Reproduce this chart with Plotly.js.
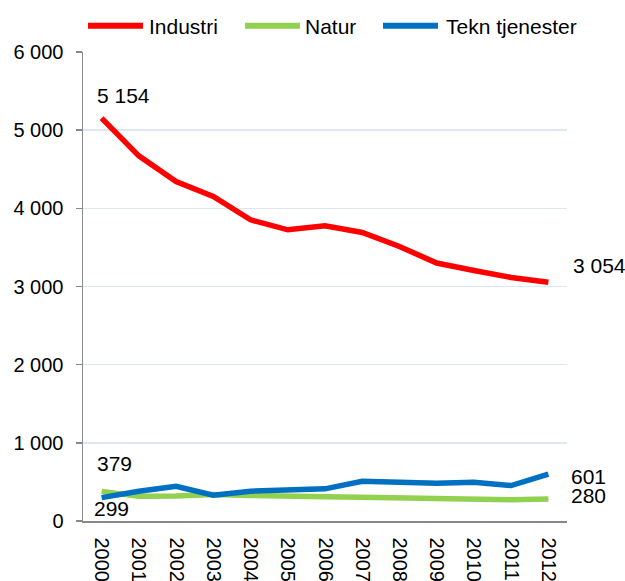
<!DOCTYPE html>
<html><head><meta charset="utf-8">
<script src="https://cdn.plot.ly/plotly-3.0.1.min.js"></script>
<style>html,body{margin:0;padding:0;background:#fff}#c{width:625px;height:581px}</style>
</head><body><div id="c"></div>
<script>
const years = ["2000","2001","2002","2003","2004","2005","2006","2007","2008","2009","2010","2011","2012"];
const industri = [5154,4671,4343,4151,3853,3725,3776,3691,3512,3300,3205,3116,3054];
const natur = [379,318,320,339,326,326,309,304,296,288,275,271,280];
const tekn = [299,381,445,330,381,390,411,509,488,483,496,454,601];
const seriesNames = ["Industri","Natur","Tekn tjenester"];
const colors = ["#ff0000","#92d050","#0070c0"];

const L = 83, R = 567, T = 52, B = 521.5;
const px = v => (v - L) / (R - L);
const py = v => (B - v) / (B - T);

const fmt = v => String(v).replace(/\B(?=(\d{3})+(?!\d))/g, " ");
const data = [industri, natur, tekn].map((vals,i)=>({
  type:"scatter", mode:"lines", x:years, y:vals, name:seriesNames[i],
  line:{color:colors[i], width:5.5}, hoverinfo:"skip", showlegend:false
}));
const font = {family:"Liberation Sans, Arial, sans-serif", size:21, color:"#000"};
const tickFont = {family:"Liberation Sans, Arial, sans-serif", size:20, color:"#000"};
const last = years.length-1;
const annotations = [
  {x:0, y:industri[0], text:fmt(industri[0]), xshift:-7, yshift:23},
  {x:last, y:industri[last], text:fmt(industri[last]), xshift:23, yshift:17},
  {x:0, y:natur[0], text:fmt(natur[0]), xshift:-7, yshift:28},
  {x:0, y:tekn[0], text:fmt(tekn[0]), xshift:-10, yshift:-11},
  {x:last, y:tekn[last], text:fmt(tekn[last]), xshift:22, yshift:-2, borderpad:0},
  {x:last, y:natur[last], text:fmt(natur[last]), xshift:22, yshift:4, borderpad:0}
].map(a=>Object.assign({showarrow:false, font:font, xref:"x", yref:"y", xanchor:"left", yanchor:"middle"}, a));

// custom legend
const legLines = [[88,143],[245,300],[383,438]];
const legText = [147,303,444];
const legY = 25.7;
const shapes = [];
seriesNames.forEach((n,i)=>{
  shapes.push({type:"line", xref:"paper", yref:"paper", x0:px(legLines[i][0]), x1:px(legLines[i][1]), y0:py(legY), y1:py(legY), line:{color:colors[i], width:6}});
  annotations.push({xref:"paper", yref:"paper", x:px(legText[i]), y:py(legY+1), text:n, showarrow:false, xanchor:"left", yanchor:"middle", font:font});
});

const layout = {
  width:625, height:581,
  margin:{l:L, r:625-R, t:T, b:581-B},
  paper_bgcolor:"#fff", plot_bgcolor:"#fff",
  separators:", ",
  font:font,
  showlegend:false,
  xaxis:{type:"category", range:[-0.5,12.5], tickangle:90, showgrid:false, showline:true, linecolor:"#898989", linewidth:1.5, ticks:"", tickfont:tickFont, ticklabelstandoff:11, zeroline:false, fixedrange:true},
  yaxis:{range:[0,6000], dtick:1000, tickformat:",d", showgrid:true, gridcolor:"#dde7f3", gridwidth:1.5, showline:true, linecolor:"#898989", linewidth:1.5, ticks:"outside", ticklen:6, tickcolor:"#898989", tickwidth:1.5, tickfont:tickFont, ticklabelstandoff:8, zeroline:false, fixedrange:true},
  shapes:shapes,
  annotations:annotations
};
Plotly.newPlot("c", data, layout, {staticPlot:true, displayModeBar:false});
</script></body></html>
